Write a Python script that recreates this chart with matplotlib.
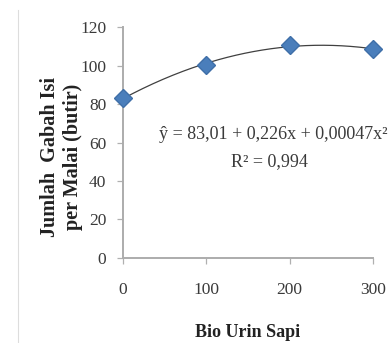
import matplotlib
matplotlib.use("Agg")
import matplotlib.pyplot as plt
import numpy as np

# dosis bio urin sapi vs jumlah gabah isi per malai
dosis = [0, 100, 200, 300]
gabah = [83.0, 100.5, 110.5, 108.5]
x_ticks = [0, 100, 200, 300]
y_ticks = [0, 20, 40, 60, 80, 100, 120]
persamaan = "ŷ = 83,01 + 0,226x + 0,00047x²"
r_kuadrat = "R² = 0,994"

plt.rcParams["font.family"] = ["Liberation Serif", "DejaVu Serif"]

fig = plt.figure(figsize=(3.9, 3.43), dpi=100)
ax = fig.add_axes([0.315, 0.248, 0.641, 0.673])

# garis tren polinomial orde 2
koef = np.polyfit(dosis, gabah, 2)
xs = np.linspace(0, 300, 200)
ax.plot(xs, np.polyval(koef, xs), color="#404040", linewidth=0.9, zorder=2)
ax.plot(dosis, gabah, linestyle="none", marker="D", markersize=9.5,
        color="#4A7EBB", markeredgecolor="#3F6FA8", zorder=3, clip_on=False)

ax.set_xlim(0, 300)
ax.set_ylim(0, 120)
ax.set_xticks(x_ticks)
ax.set_yticks(y_ticks)
ax.tick_params(labelsize=12.5, colors="#3a3a3a", length=4, width=0.9)
ax.tick_params(axis="x", pad=13, color="#b0b0b0")
ax.tick_params(axis="y", pad=8, color="#b0b0b0")
for s in ["top", "right"]:
    ax.spines[s].set_visible(False)
for s in ["left", "bottom"]:
    ax.spines[s].set_color("#acacac")
    ax.spines[s].set_linewidth(1.4)

ax.text(180, 64, persamaan, fontsize=13, ha="center", va="center", color="#3a3a3a")
ax.text(176, 50, r_kuadrat, fontsize=13, ha="center", va="center", color="#3a3a3a")

ax.set_xlabel("Bio Urin Sapi", fontsize=13, fontweight="bold", labelpad=19,
              color="#222222")
fig.text(62 / 390, 1 - 157 / 343, "Jumlah  Gabah Isi\nper Malai (butir)",
         rotation=90, fontsize=14.5, fontweight="bold", ha="center", va="center",
         linespacing=1.2, color="#222222")

# garis tepi area grafik di kiri
fig.add_artist(plt.Line2D([18 / 390, 18 / 390], [0.0, 0.97], color="#dddddd", linewidth=0.8))

fig.savefig("out.png", dpi=100)
